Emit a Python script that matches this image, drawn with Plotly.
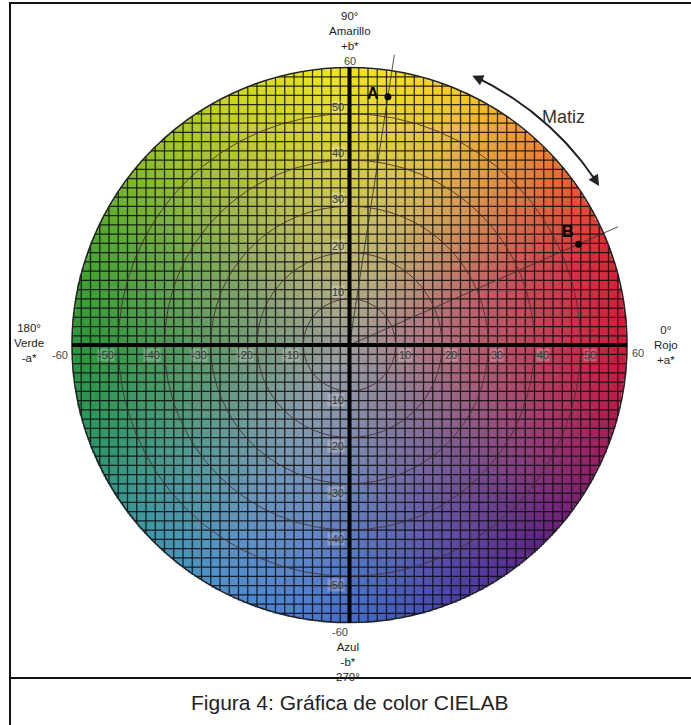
import numpy as np
import plotly.graph_objects as go

# ---------------- data ----------------
disc_radius = 60
grid_step = 2
ring_radii = [10, 20, 30, 40, 50]
tick_values = [-50, -40, -30, -20, -10, 10, 20, 30, 40, 50]
tick_labels = [str(v) for v in tick_values]

point_names = ["A", "B"]
point_a = [8.3, 49.5]     # a* values
point_b = [53.7, 21.8]    # b* values
ray_length = 63.5

hue_arrow_radius = 64
hue_arrow_angles = [32.5, 65.5]
hue_arrow_label = "Matiz"

# colour of the rim of the disc at given hue angles (deg)
hue_anchor_angles = [0, 20, 35, 50, 65, 80, 95, 115, 135, 155, 180, 200,
                     220, 240, 260, 275, 295, 315, 335, 350]
hue_anchor_colors = [
    (205, 25, 60), (218, 38, 55), (230, 90, 50), (240, 148, 45), (245, 198, 40),
    (245, 222, 35), (236, 230, 28), (205, 215, 25), (150, 195, 35), (85, 170, 45),
    (38, 150, 55), (42, 150, 100), (60, 150, 160), (78, 145, 205), (75, 125, 212),
    (65, 100, 195), (75, 60, 165), (95, 35, 130), (150, 30, 100), (190, 25, 70)]
center_gray = (160, 157, 157)

top_label = "90°<br>Amarillo<br>+b*"
left_label = "180°<br>Verde<br>-a*"
right_label = "0°<br>Rojo<br>+a*"
bottom_label = "Azul<br>-b*<br>270°"
caption = "Figura 4: Gráfica de color CIELAB"

# ---------------- geometry of the page ----------------
W, H = 691, 725
PX = 4.625          # pixels per unit
CX, CY = 349.5, 345.0
x_range = [-CX / PX, (W - CX) / PX]
y_range = [-(H - CY) / PX, CY / PX]

# ---------------- colour disc (image) ----------------
step = 0.4
coords = np.arange(-60.2, 60.2 + 1e-9, step)
XX, YY = np.meshgrid(coords, coords)
RR = np.hypot(XX, YY)
TH = np.degrees(np.arctan2(YY, XX)) % 360
ang = np.array(hue_anchor_angles + [hue_anchor_angles[0] + 360], dtype=float)
cols = np.array(hue_anchor_colors + [hue_anchor_colors[0]], dtype=float)
t = np.clip(RR / disc_radius, 0, 1) ** 0.95
rgba = np.zeros(XX.shape + (4,))
for c in range(3):
    rim = np.interp(TH, ang, cols[:, c])
    rgba[..., c] = center_gray[c] * (1 - t) + rim * t
rgba[..., 3] = np.clip((disc_radius + 0.2 - RR) / step, 0, 1)
rgba[..., :3] = np.round(rgba[..., :3])

fig = go.Figure()
fig.add_trace(go.Image(z=rgba, colormodel="rgba", x0=coords[0], dx=step,
                       y0=coords[0], dy=step, hoverinfo="skip"))

# ---------------- grid lines clipped to disc ----------------
gx, gy = [], []
for k in range(-disc_radius + grid_step, disc_radius, grid_step):
    h = np.sqrt(disc_radius ** 2 - k ** 2)
    gx += [k, k, None]
    gy += [-h, h, None]
    gx += [-h, h, None]
    gy += [k, k, None]
fig.add_trace(go.Scatter(x=gx, y=gy, mode="lines",
                         line=dict(color="rgba(10,10,10,0.85)", width=1.25),
                         hoverinfo="skip", showlegend=False))

shapes = []
for r in ring_radii:
    shapes.append(dict(type="circle", xref="x", yref="y", x0=-r, x1=r, y0=-r, y1=r,
                       line=dict(color="rgba(70,45,45,0.85)", width=1)))
shapes.append(dict(type="circle", xref="x", yref="y", x0=-disc_radius, x1=disc_radius,
                   y0=-disc_radius, y1=disc_radius, line=dict(color="#222", width=1.6)))
# main axes
shapes.append(dict(type="line", xref="x", yref="y", x0=-disc_radius, x1=disc_radius, y0=0, y1=0,
                   line=dict(color="black", width=4)))
shapes.append(dict(type="line", xref="x", yref="y", x0=0, x1=0, y0=-disc_radius, y1=disc_radius,
                   line=dict(color="black", width=4)))
# frame
shapes.append(dict(type="line", xref="paper", yref="paper", x0=9 / W, x1=1,
                   y0=1 - 3 / H, y1=1 - 3 / H, line=dict(color="#111", width=2)))
shapes.append(dict(type="line", xref="paper", yref="paper", x0=10 / W, x1=10 / W,
                   y0=0, y1=1 - 3 / H, line=dict(color="#111", width=2)))
shapes.append(dict(type="line", xref="paper", yref="paper", x0=10 / W, x1=1,
                   y0=1 - 678 / H, y1=1 - 678 / H, line=dict(color="#111", width=2)))

# ---------------- rays through the points ----------------
rx, ry = [], []
for a, b in zip(point_a, point_b):
    th = np.arctan2(b, a)
    rx += [0, ray_length * np.cos(th), None]
    ry += [0, ray_length * np.sin(th), None]
fig.add_trace(go.Scatter(x=rx, y=ry, mode="lines",
                         line=dict(color="rgba(50,50,50,0.85)", width=1),
                         hoverinfo="skip", showlegend=False))
fig.add_trace(go.Scatter(x=point_a, y=point_b, mode="markers",
                         marker=dict(color="black", size=7),
                         hoverinfo="skip", showlegend=False))

# ---------------- hue arrow ----------------
arc_t = np.radians(np.linspace(hue_arrow_angles[0] + 1.5, hue_arrow_angles[1] - 1.5, 60))
fig.add_trace(go.Scatter(x=hue_arrow_radius * np.cos(arc_t), y=hue_arrow_radius * np.sin(arc_t),
                         mode="lines", line=dict(color="#222", width=2),
                         hoverinfo="skip", showlegend=False))

ann = []
for i, end in enumerate(hue_arrow_angles):
    th = np.radians(end)
    sgn = -1 if i == 0 else 1
    tx, ty = hue_arrow_radius * np.cos(th), hue_arrow_radius * np.sin(th)
    dirx, diry = -np.sin(th) * sgn, np.cos(th) * sgn
    ann.append(dict(x=tx, y=ty, ax=tx - 3 * dirx, ay=ty - 3 * diry, xref="x", yref="y",
                    axref="x", ayref="y", text="", showarrow=True, arrowhead=2,
                    arrowsize=1.1, arrowwidth=2, arrowcolor="#222", standoff=0, startstandoff=0))

ann.append(dict(x=46.2, y=49.4, xref="x", yref="y", text=hue_arrow_label, showarrow=False,
                font=dict(size=18, color="#333", family="Liberation Sans")))

# point labels
for name, (lx, ly) in zip(point_names, [(5.1, 54.3), (47.3, 24.5)]):
    ann.append(dict(x=lx, y=ly, xref="x", yref="y", text="<b>%s</b>" % name, showarrow=False,
                    font=dict(size=16, color="black", family="Liberation Sans")))

# tick labels
tick_font = dict(size=11, color="#3c3c3c", family="Liberation Sans")
tick_bg = "rgba(255,255,255,0.22)"
for v, lab in zip(tick_values, tick_labels):
    if v > 0:
        ann.append(dict(x=v + 0.4, y=-2.2, xref="x", yref="y", text=lab, showarrow=False,
                        xanchor="left", font=tick_font, bgcolor=tick_bg, borderpad=0))
        ann.append(dict(x=-0.9, y=v + 1.5, xref="x", yref="y", text=lab, showarrow=False,
                        xanchor="right", font=tick_font, bgcolor=tick_bg, borderpad=0))
    else:
        ann.append(dict(x=v - 0.7, y=-2.2, xref="x", yref="y", text=lab, showarrow=False,
                        xanchor="right", font=tick_font, bgcolor=tick_bg, borderpad=0))
        ann.append(dict(x=-0.9, y=v - 1.9, xref="x", yref="y", text=lab, showarrow=False,
                        xanchor="right", font=tick_font, bgcolor=tick_bg, borderpad=0))

# end labels (±60) and axis names
edge_font = dict(size=11, color="#444", family="Liberation Sans")
name_font = dict(size=11.5, color="#222", family="Liberation Sans")
outer_texts = [
    ("60", 0.1, 61.3, edge_font), ("-60", -2.0, -62.1, edge_font),
    ("-60", -62.6, -2.2, edge_font), ("60", 62.4, -1.8, edge_font),
    (top_label, 0.0, 67.8, name_font),
    (left_label, -69.2, 0.4, name_font),
    (right_label, 68.5, 0.0, name_font),
    (bottom_label, -0.3, -68.6, name_font),
]
for txt, x, y, f in outer_texts:
    ann.append(dict(x=x, y=y, xref="x", yref="y", text=txt, showarrow=False, font=f))

ann.append(dict(x=349 / W, y=1 - 702 / H, xref="paper", yref="paper", text=caption,
                xanchor="center", yanchor="middle", showarrow=False,
                font=dict(size=21, color="#222", family="Liberation Sans")))

fig.update_layout(
    width=W, height=H, margin=dict(l=0, r=0, t=0, b=0),
    paper_bgcolor="white", plot_bgcolor="white",
    xaxis=dict(range=x_range, autorange=False, visible=False, showgrid=False, zeroline=False),
    yaxis=dict(range=y_range, autorange=False, visible=False, showgrid=False, zeroline=False),
    shapes=shapes, annotations=ann, showlegend=False,
)
fig.write_html("out.html", config={"displayModeBar": False},
               post_script="document.body.style.margin='0px';document.body.style.overflow='hidden';")
